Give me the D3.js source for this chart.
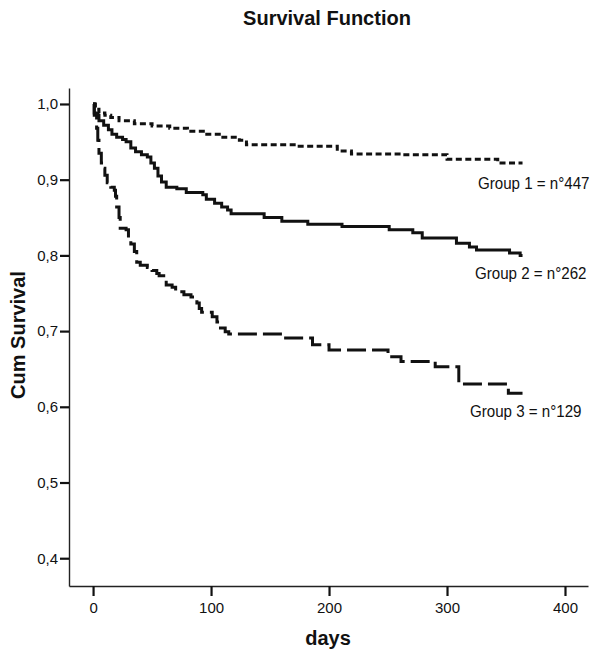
<!DOCTYPE html>
<html>
<head>
<meta charset="utf-8">
<script src="https://cdn.jsdelivr.net/npm/d3@7/dist/d3.min.js"></script>
<style>
  html, body { margin: 0; padding: 0; background: #fff; }
  svg { display: block; }
  text { font-family: "Liberation Sans", Arial, sans-serif; fill: #111; }
</style>
</head>
<body>
<script>
// ---- data ----
const xTicks = [0, 100, 200, 300, 400];
const yTicks = [0.4, 0.5, 0.6, 0.7, 0.8, 0.9, 1.0];

const groupNames = ["Group 1 = n°447", "Group 2 = n°262", "Group 3 = n°129"];

const group1Days = [0, 2, 5, 10, 15, 22, 35, 50, 65, 80, 95, 110, 124, 130, 173, 207, 219, 262, 300, 343, 364];
const group1Surv = [1.0, 0.993, 0.988, 0.985, 0.982, 0.978, 0.974, 0.971, 0.968, 0.964, 0.960, 0.956, 0.952, 0.946, 0.944, 0.938, 0.934, 0.933, 0.927, 0.922, 0.922];

const group2Days = [0, 1, 5, 9, 13, 16, 20, 25, 28, 32, 36, 41, 46, 49, 52, 55, 58, 62, 71, 79, 93, 96, 103, 109, 114, 117, 145, 160, 182, 211, 251, 271, 279, 308, 319, 325, 353, 362, 364];
const group2Surv = [1.0, 0.985, 0.978, 0.972, 0.966, 0.960, 0.956, 0.953, 0.950, 0.942, 0.937, 0.933, 0.930, 0.922, 0.915, 0.905, 0.897, 0.890, 0.888, 0.883, 0.880, 0.874, 0.869, 0.864, 0.860, 0.855, 0.850, 0.845, 0.841, 0.838, 0.834, 0.830, 0.823, 0.816, 0.811, 0.807, 0.803, 0.800, 0.800];

const group3Days = [0, 1, 3, 4, 5, 7, 9, 10, 12, 15, 18, 19, 20, 22, 23, 28, 30, 32, 35, 37, 40, 46, 50, 54, 56, 62, 67, 70, 77, 83, 88, 90, 92, 101, 105, 108, 112, 115, 161, 186, 200, 250, 261, 290, 310, 352, 364];
const group3Surv = [1.0, 0.988, 0.968, 0.952, 0.935, 0.922, 0.915, 0.906, 0.896, 0.890, 0.886, 0.878, 0.864, 0.850, 0.836, 0.834, 0.820, 0.815, 0.805, 0.791, 0.787, 0.784, 0.780, 0.776, 0.773, 0.761, 0.758, 0.752, 0.748, 0.745, 0.737, 0.730, 0.725, 0.719, 0.712, 0.704, 0.699, 0.696, 0.691, 0.682, 0.675, 0.666, 0.660, 0.653, 0.630, 0.618, 0.618];

// ---- layout ----
const W = 600, H = 656;
const plotLeft = 69, plotRight = 588, plotTop = 88, plotBottom = 586;

const svg = d3.select("body").append("svg").attr("width", W).attr("height", H);

const x = d3.scaleLinear().domain([-20.4, 419.5]).range([plotLeft, plotRight]);
const y = d3.scaleLinear().domain([0.3633, 1.0211]).range([plotBottom, plotTop]);

// axes
const xAxis = d3.axisBottom(x).tickValues(xTicks).tickSize(10).tickSizeOuter(0).tickPadding(6);
const yAxis = d3.axisLeft(y).tickValues(yTicks).tickSize(9).tickSizeOuter(0).tickPadding(2)
  .tickFormat(d => d3.format(".1f")(d).replace(".", ","));

const gx = svg.append("g").attr("transform", `translate(0,${plotBottom})`).call(xAxis);
const gy = svg.append("g").attr("transform", `translate(${plotLeft},0)`).call(yAxis);

[gx, gy].forEach(g => {
  g.select(".domain").attr("stroke", "#222").attr("stroke-width", 1.4);
  g.selectAll(".tick line").attr("stroke", "#111").attr("stroke-width", 2.2);
  g.selectAll(".tick text").attr("font-size", 15).attr("font-family", "Liberation Sans, Arial, sans-serif").attr("fill", "#111");
});

// lines
const line = d3.line().x(d => x(d[0])).y(d => y(d[1])).curve(d3.curveStepAfter);

const series = [
  { days: group1Days, surv: group1Surv, dash: "6,3.5" },
  { days: group2Days, surv: group2Surv, dash: null },
  { days: group3Days, surv: group3Surv, dash: "19,6" }
];

series.forEach(s => {
  const pts = s.days.map((d, i) => [d, s.surv[i]]);
  const p = svg.append("path")
    .attr("d", line(pts))
    .attr("fill", "none")
    .attr("stroke", "#111")
    .attr("stroke-width", 3);
  if (s.dash) p.attr("stroke-dasharray", s.dash);
});

// group labels (slightly condensed, like the original)
const labelPos = [[478, 189], [475, 279], [470, 417]];
groupNames.forEach((t, i) => {
  svg.append("text")
    .attr("transform", `translate(${labelPos[i][0]},${labelPos[i][1]}) scale(0.89,1)`)
    .attr("font-size", 17)
    .text(t);
});

// titles
svg.append("text")
  .attr("x", 327).attr("y", 25)
  .attr("text-anchor", "middle")
  .attr("font-size", 20).attr("font-weight", "bold")
  .text("Survival Function");

svg.append("text")
  .attr("x", 328).attr("y", 645)
  .attr("text-anchor", "middle")
  .attr("font-size", 20).attr("font-weight", "bold")
  .text("days");

svg.append("text")
  .attr("transform", `translate(25,${335}) rotate(-90)`)
  .attr("text-anchor", "middle")
  .attr("font-size", 20).attr("font-weight", "bold")
  .text("Cum Survival");
</script>
</body>
</html>
